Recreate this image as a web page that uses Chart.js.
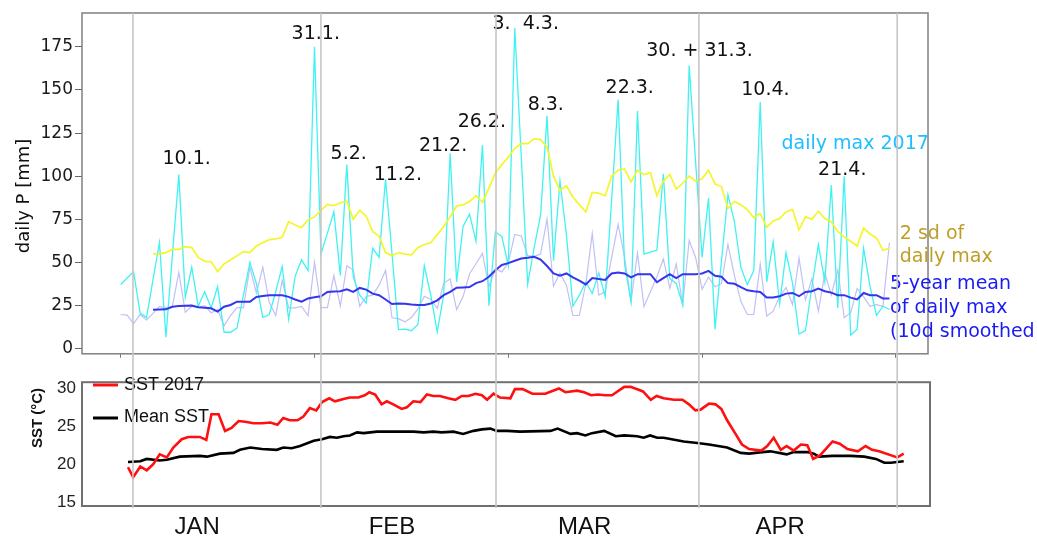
<!DOCTYPE html>
<html><head><meta charset="utf-8">
<script src="https://cdn.jsdelivr.net/npm/chart.js@4/dist/chart.umd.min.js"></script>
<style>
html,body{margin:0;padding:0;background:#fff;width:1037px;height:539px;overflow:hidden}
.w{position:absolute;left:0}
</style></head><body>
<div class="w" style="top:0;width:1037px;height:366px"><canvas id="top" width="1037" height="366"></canvas></div>
<div class="w" style="top:366px;width:1037px;height:173px"><canvas id="bot" width="1037" height="173"></canvas></div>
<script>
// ---------- data: daily precipitation (mm), index = day from 1 Jan ----------
const dailyMax2017 = [37.2,41,44.5,20.8,18,40,61.4,6.6,54,101, 29.8,47.2,24.6,33,23.6,36,9.5,9.5,11.9,31,
  50,37.8,18,19.8,33,47.6,17,41.9,51.5,45.3, 175,54.8,67,79.3,42.5,106.7,41.6,31,26.4,58.2,
  52.9,98.2,55,11,11.3,10.4,14,48,31,9.8, 31,113.3,38.7,70.8,78,62.3,118,24.9,67.6,65.1,
  48.1,186,112,37.4,58.5,77.4,135,51,97.2,66, 24.6,31,38.7,32,44,30.2,86.5,144.4,49,27.4,
  137.8,54.8,56,57,101.4,40.6,37.8,25.5,164.2,108, 52.9,87.4,11.3,51,89.3,73.6,47.2,37,45.3,143,
  38.7,61.9,26,55.7,37.8,8.5,10.4,35.9,60.4,38.7, 94.8,23.6,100,7.9,11.3,58.2,35.9,19.3,24.6,22.7];
const meanDailyMax = [19.8,19.4,14.5,19.8,16.6,20.4,24.5,23.6,24.5,44.3, 21.1,24.5,24,24.9,20.8,22.6,13.2,19.2,23.8,23.8,
  47.2,32.3,47.2,26.9,19.2,39.6,23.6,23.6,24.5,19.2, 50,23.8,23.8,42.4,24.7,48.1,45.7,24.5,30.2,31.1,
  36.8,45.3,17.9,17.4,15.5,18,23,30.4,28.5,23.4, 38,40.4,22.6,30.2,43.4,49.2,55.2,35.9,46.2,44.5,
  49.6,66.2,65.3,53.9,53.5,54.8,75.1,36.2,43.8,36.8, 19.2,19.2,37.6,66.8,31.1,33,52.9,72.1,53.1,27.2,
  55.5,24.5,33,41.5,52,35,49.2,25.5,62.7,52.9, 34.4,41.5,35.9,37.8,60.4,42.5,27.4,19.8,19.8,49,
  18.9,21.7,30.2,35.5,25.5,52.5,28.3,40.6,21.7,43.8, 31.1,45.7,17.9,20.8,34.9,30.2,24.5,25.5,24.5,61.4];
const twoSdDailyMax = [null,null,null,null,null,55.1,54.8,55.7,57.6,57.6, 59.1,58.6,52.9,50.6,50.4,44.7,49.1,51.4,53.8,56.3,
  55.7,59.5,61.4,63.2,63.6,64.6,73.6,71.7,70.2,74.6, 76.4,80.2,83.6,82.9,84.6,85.5,75.1,80.2,76.8,67.9,
  65.1,55.7,53.8,55.7,54.8,54.4,58.5,60.4,61.4,66.1, 70.8,76.4,82.7,83.4,85.3,88.7,84.9,93.1,101.9,106.7,
  111,116.1,118.9,118.9,121.7,121.2,117,100,91.6,94.4, 87.8,83.5,79.3,90.6,90.2,88.7,100,103.5,104.2,96.7,
  103.5,101,102,88.7,97.2,101,92.5,95.9,100,97.2, 98.5,103.5,95.4,94,81.2,85.3,83.5,80.6,75.9,78.4,
  70.4,74,75.5,79.3,80.8,68.9,76.4,75.1,79.7,75.5, 73.6,67.9,64.8,62.3,59.5,69.9,66.5,64.2,57,58.2];
const meanSmoothed = [null,null,null,null,null,22.6,22.7,22.8,24.3,24.7, 24.9,25,24,23.7,23.4,21.5,24.3,25.3,27.2,27.2,
  27.2,30,30.5,31,31,31,30,28.5,27.2,29.1, 29.8,30.4,32.9,33.1,33.3,34.4,32.9,35.2,34.2,31.9,
  31,28.5,25.9,26.2,26,25.6,25.3,25.3,26.2,28, 31,32.9,35.3,35.5,35.7,38,39.1,41.7,45.5,48.5,
  49.6,51,52.3,52.7,53.3,51.7,47.9,43.6,42.3,43.6, 41.3,39.4,37.2,40.9,40.4,39.8,43.6,44.2,43.6,41.3,
  43.2,43.2,43.2,38.5,40.9,43.2,40.9,43.2,43.2,43.2, 43.6,45.1,42.3,41.7,38,37.6,35.7,33.8,33.3,32.9,
  29.6,29.6,30.4,31.9,32.3,30.4,32.9,33.3,34.8,33.3, 32.5,31,31,29.6,28.5,32.3,31,31,29.1,29.1];
const pTicks = [0,25,50,75,100,125,150,175];
const topTicks = [0,30,60,90,120];
const monthLineDays = [1.9,31.0,58.1,89.5,120.2];

// ---------- data: SST (°C), x = day from 1 Jan ----------
const sst2017Days = [0,0.8,1.9,2.9,3.9,4.9,6,7,8.3,9.3,11.1,12.1,12.9,14,15,16,17.1,18.1,19.4,20.7,22,23.1,24,25,26.2,27.1,28.1,29.1,30,31.1,
  32,33.3,34.3,35.6,36.6,37.3,38.2,39.2,40,41,42.3,43.1,44.1,45.2,46.2,47.2,48.2,49.5,50.6,51.6,52.6,53.7,54.7,55.5,56.5,57.5,59.1,59.8,61,62.5,
  64.5,66.6,67.6,69.4,70.5,71.6,72.6,73.8,74.8,76.7,77.7,79.6,80.8,81.7,82.8,84.4,85.7,86.7,87.7,88.5,89.8,90.8,91.7,92.6,93.9,94.9,96,97.9,98.8,99.8,
  100.9,101.8,102.9,104,105,105.9,107,108.9,110,111.2,112.8,114,115,116.1,118.9,119.9];
const sst2017 = [19.6,18.3,19.7,19.2,20,21.3,20.9,22.2,23.3,23.6,23.6,23.2,26.6,26.6,24.4,24.8,25.7,25.6,25.4,25.4,25.5,25.2,26.1,25.8,25.8,26.3,27.4,27.1,28.2,28.7,
  28.3,28.6,28.8,28.8,29.1,29.5,29.2,27.9,28.3,27.9,27.3,27.5,28.3,28.2,29.2,29,29,28.7,28.5,29,29,29.3,29.1,28.5,29.3,28.8,28.7,29.9,29.9,29.3,
  29.3,30,29.5,29.7,29.5,29.1,29.2,29.1,29.1,30.2,30.2,29.6,28.5,29,28.7,28.5,28.5,27.9,27.1,27.2,28,27.9,27.3,25.8,24,22.6,22,21.8,22.4,23.5,
  21.9,22.4,21.8,22.6,22.5,20.7,21.2,23,22.7,22,21.7,22.4,21.9,21.7,20.9,21.4];
const sstMeanDays = [0,1.9,2.9,4.9,6,8,11.1,12.2,14.2,16.3,17.3,18.9,20.7,23,24,25.3,26.6,28.7,30,31.2,32.3,33.3,34.3,35.4,36.4,38.5,41,44.1,45.7,47.2,
  48.5,50.3,51.8,53.4,54.7,56,57,58.6,60.6,65.3,66.4,68.4,69.4,70.7,71.7,73.6,75.4,76.7,78.7,79.7,80.7,81.8,82.8,85.9,88,89.8,92.6,94.7,96,98,
  99.3,101.8,102.9,105,106,106.8,108.9,111.7,113.8,115.6,116.9,117.9,119.9];
const sstMean = [20.3,20.4,20.7,20.5,20.6,21,21.1,21,21.4,21.5,21.9,22.2,22,21.9,22.2,22.1,22.4,23.1,23.3,23.6,23.5,23.7,23.8,24.2,24.1,24.3,24.3,24.3,24.2,24.3,
  24.2,24.3,24,24.4,24.6,24.7,24.4,24.4,24.3,24.4,24.7,24,24.1,23.8,24.1,24.4,23.7,23.8,23.7,23.5,23.8,23.5,23.5,23,22.8,22.6,22.2,21.5,21.4,21.6,
  21.7,21.3,21.6,21.6,21.4,21,21.1,21.1,21,20.7,20.2,20.2,20.4];
const sstTicks = [15,20,25,30];
const monthNames = ['JAN','FEB','MAR','APR'];
const monthLabelDays = [10.7,40.8,70.6,100.8];

// ---------- annotation texts: [text, day, mm] ----------
const peakLabels = [['10.1.',10.2,110.2],['31.1.',30.2,182.2],['5.2.',35.3,113.1],['11.2.',42.9,100.9],
  ['21.2.',49.9,117.3],['26.2.',55.9,131.5],['3.  4.3.',62.7,188.4],['8.3.',65.8,141.4],['22.3.',78.8,151.3],
  ['30. + 31.3.',89.6,172.5],['10.4.',99.8,150.2],['21.4.',111.7,103.7]];

const days = dailyMax2017.map((_, i) => i);
const pts = (xs, ys) => xs.map((x, i) => ({x: x, y: ys[i]}));

function drawMonthLines(chart, xScale, y0, y1) {
  const ctx = chart.ctx;
  ctx.save();
  ctx.strokeStyle = '#c6c6c6'; ctx.lineWidth = 1.6;
  monthLineDays.forEach(d => {
    const px = xScale.getPixelForValue(d);
    ctx.beginPath(); ctx.moveTo(px, y0); ctx.lineTo(px, y1); ctx.stroke();
  });
  ctx.restore();
}

let topChart;
const topPlugin = {
  id: 'topDeco',
  afterDraw(chart) {
    const ctx = chart.ctx, a = chart.chartArea, x = chart.scales.x, y = chart.scales.y;
    ctx.save();
    ctx.strokeStyle = '#808080'; ctx.lineWidth = 1.5;
    ctx.strokeRect(a.left, a.top, a.right - a.left, a.bottom - a.top);
    ctx.font = '19px "DejaVu Sans"'; ctx.textAlign = 'center'; ctx.textBaseline = 'middle';
    ctx.fillStyle = '#111';
    peakLabels.forEach(p => ctx.fillText(p[0], x.getPixelForValue(p[1]), y.getPixelForValue(p[2])));
    ctx.fillStyle = 'rgb(30,190,255)';
    ctx.fillText('daily max 2017', x.getPixelForValue(113.7), y.getPixelForValue(118.7));
    ctx.textAlign = 'left';
    ctx.fillStyle = 'rgb(190,158,36)';
    ctx.fillText('2 sd of', x.getPixelForValue(120.6), y.getPixelForValue(66.4));
    ctx.fillText('daily max', x.getPixelForValue(120.6), y.getPixelForValue(53.3));
    ctx.fillStyle = '#1a1af5';
    ctx.fillText('5-year mean', x.getPixelForValue(119.1), y.getPixelForValue(37.2));
    ctx.fillText('of daily max', x.getPixelForValue(119.1), y.getPixelForValue(23.6));
    ctx.fillText('(10d smoothed', x.getPixelForValue(119.1), y.getPixelForValue(9.7));
    ctx.restore();
    drawMonthLines(chart, x, a.top, chart.height);
    ctx.save();
    ctx.translate(24, 196); ctx.rotate(-Math.PI / 2);
    ctx.font = '18px "DejaVu Sans"'; ctx.fillStyle = '#111'; ctx.textAlign = 'center'; ctx.textBaseline = 'middle';
    ctx.fillText('daily P [mm]', 0, 0);
    ctx.restore();
  }
};

topChart = new Chart(document.getElementById('top'), {
  type: 'line',
  data: { datasets: [
    {label: '5-year mean of daily max (10d smoothed)', data: pts(days, meanSmoothed), borderColor: '#3535ee', borderWidth: 2, pointRadius: 0, tension: 0},
    {label: '2 sd of daily max', data: pts(days, twoSdDailyMax), borderColor: '#f5f52c', borderWidth: 1.7, pointRadius: 0, tension: 0},
    {label: 'daily max 2017', data: pts(days, dailyMax2017), borderColor: 'rgb(64,242,242)', borderWidth: 1.3, pointRadius: 0, tension: 0},
    {label: '5-year mean daily max', data: pts(days, meanDailyMax), borderColor: 'rgba(150,150,240,0.6)', borderWidth: 1.2, pointRadius: 0, tension: 0}
  ]},
  options: {
    responsive: false, animation: false, devicePixelRatio: 1,
    layout: {padding: {top: 13, right: 109, left: 0, bottom: 0}},
    plugins: {legend: {display: false}, tooltip: {enabled: false}},
    scales: {
      x: {type: 'linear', min: -5.99, max: 124.97,
        afterFit: s => { s.height = 4; },
        afterBuildTicks: s => { s.ticks = topTicks.map(v => ({value: v})); },
        ticks: {display: false},
        grid: {drawOnChartArea: false, drawTicks: true, tickLength: 4, color: '#777'},
        border: {display: false}},
      y: {type: 'linear', min: -3, max: 194.65,
        afterFit: s => { s.width = 82; },
        afterBuildTicks: s => { s.ticks = pTicks.map(v => ({value: v})); },
        ticks: {font: {family: 'DejaVu Sans', size: 17}, color: '#1a1a1a', padding: 2},
        grid: {drawOnChartArea: false, drawTicks: true, tickLength: 7, color: '#666'},
        border: {display: false}}
    }
  },
  plugins: [topPlugin]
});

const botPlugin = {
  id: 'botDeco',
  afterDraw(chart) {
    const ctx = chart.ctx, a = chart.chartArea;
    ctx.save();
    ctx.strokeStyle = '#707070'; ctx.lineWidth = 2;
    ctx.strokeRect(a.left, a.top, a.right - a.left, a.bottom - a.top);
    // legend
    ctx.lineWidth = 3;
    ctx.strokeStyle = '#ff1010';
    ctx.beginPath(); ctx.moveTo(93, 19); ctx.lineTo(118, 19); ctx.stroke();
    ctx.strokeStyle = '#000';
    ctx.beginPath(); ctx.moveTo(93, 52); ctx.lineTo(118, 52); ctx.stroke();
    ctx.font = '18px "Liberation Sans"'; ctx.fillStyle = '#111'; ctx.textBaseline = 'middle'; ctx.textAlign = 'left';
    ctx.fillText('SST 2017', 124, 19);
    ctx.fillText('Mean SST', 124, 51);
    ctx.translate(38, 52); ctx.rotate(-Math.PI / 2);
    ctx.font = 'bold 15px "Liberation Sans"'; ctx.textAlign = 'center';
    ctx.fillText('SST (\u00B0C)', 0, 0);
    ctx.restore();
    if (topChart) drawMonthLines(chart, topChart.scales.x, 0, a.bottom + 2);
  }
};

new Chart(document.getElementById('bot'), {
  type: 'line',
  data: { datasets: [
    {label: 'SST 2017', data: pts(sst2017Days, sst2017), borderColor: '#ff1010', borderWidth: 2.6, pointRadius: 0, tension: 0},
    {label: 'Mean SST', data: pts(sstMeanDays, sstMean), borderColor: '#000', borderWidth: 2.6, pointRadius: 0, tension: 0}
  ]},
  options: {
    responsive: false, animation: false, devicePixelRatio: 1,
    layout: {padding: {top: 1, right: 107, left: 0, bottom: 0}},
    plugins: {legend: {display: false}, tooltip: {enabled: false}},
    scales: {
      x: {type: 'linear', min: -7.11, max: 123.96,
        afterFit: s => { s.height = 33; },
        afterBuildTicks: s => { s.ticks = monthLabelDays.map(v => ({value: v})); },
        ticks: {font: {family: 'Liberation Sans', size: 24}, color: '#111', padding: 7, maxRotation: 0, autoSkip: false,
          callback: (v, i) => monthNames[i]},
        grid: {display: false, drawTicks: false},
        border: {display: false}},
      y: {type: 'linear', min: 14.49, max: 30.82,
        afterFit: s => { s.width = 82; },
        afterBuildTicks: s => { s.ticks = sstTicks.map(v => ({value: v})); },
        ticks: {font: {family: 'Liberation Sans', size: 17}, color: '#222', padding: 6},
        grid: {display: false, drawTicks: false},
        border: {display: false}}
    }
  },
  plugins: [botPlugin]
});
</script>
</body></html>
